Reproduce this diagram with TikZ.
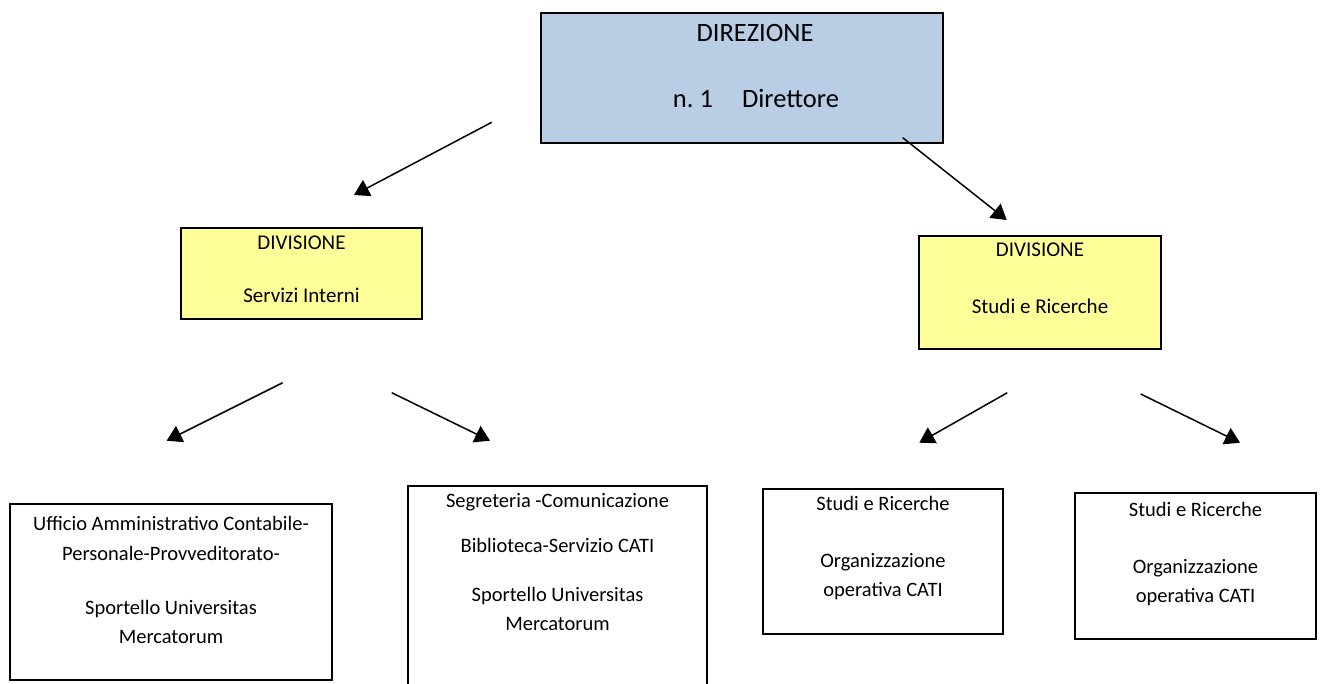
\documentclass[tikz,border=0pt]{standalone}
\usepackage{fontspec}
\setmainfont{Carlito}
\usetikzlibrary{arrows.meta}
\definecolor{dirblue}{HTML}{B9CDE5}
\definecolor{divyellow}{HTML}{FFFF99}
\tikzset{
  box/.style={draw=black, line width=2pt, inner sep=0pt, outer sep=0pt},
  txt/.style={anchor=base, inner sep=0pt},
  big/.style={txt, font=\fontsize{26.5}{30}\selectfont},
  mid/.style={txt, font=\fontsize{21}{25}\selectfont},
  small/.style={txt, font=\fontsize{20.5}{24}\selectfont},
  conn/.style={line width=1.5pt, -{Triangle[length=15pt,width=18pt]}}
}
\begin{document}
\begin{tikzpicture}[x=1pt,y=-1pt]
\useasboundingbox (0,0) rectangle (1322,684);
\begin{scope}
\clip (0,0) rectangle (1322,684);
% boxes
\path[box, fill=dirblue] (541,13) rectangle (943,143);
\node[big] (d1) at (755,42) {DIREZIONE};
\node[big] (d2) at (756,108) {n.\ 1\hspace{1.1em}Direttore};

\path[box, fill=divyellow] (181,228) rectangle (422,319);
\node[mid] (si1) at (301.5,250) {DIVISIONE};
\node[mid] (si2) at (301.5,303) {Servizi Interni};

\path[box, fill=divyellow] (919,236) rectangle (1161,349);
\node[mid] (sr1) at (1040,257) {DIVISIONE};
\node[mid] (sr2) at (1040,314) {Studi e Ricerche};

\path[box] (10,504) rectangle (332,680);
\node[small] (a1) at (171,530) {Ufficio Amministrativo Contabile-};
\node[small] (a2) at (171,560) {Personale-Provveditorato-};
\node[small] (a3) at (171,614) {Sportello Universitas};
\node[small] (a4) at (171,643) {Mercatorum};

\path[box] (408,486) rectangle (707,700);
\node[small] (b1) at (557.5,507) {Segreteria -Comunicazione};
\node[small] (b2) at (557.5,552) {Biblioteca-Servizio CATI};
\node[small] (b3) at (557.5,601) {Sportello Universitas};
\node[small] (b4) at (557.5,630) {Mercatorum};

\path[box] (763,489) rectangle (1003,634);
\node[small] (c1) at (883,510) {Studi e Ricerche};
\node[small] (c2) at (883,567) {Organizzazione};
\node[small] (c3) at (883,596) {operativa CATI};

\path[box] (1075,493) rectangle (1316,639);
\node[small] (e1) at (1195.5,516) {Studi e Ricerche};
\node[small] (e2) at (1195.5,573) {Organizzazione};
\node[small] (e3) at (1195.5,602) {operativa CATI};
\end{scope}

% connector ends
\coordinate (s1) at (491.7,122.3);  \coordinate (t1) at (354,195);
\coordinate (s2) at (902.7,137.7);  \coordinate (t2) at (1006.7,220);
\coordinate (s3) at (282.7,382.7);  \coordinate (t3) at (166.7,440.7);
\coordinate (s4) at (391.7,392.7);  \coordinate (t4) at (490,440.7);
\coordinate (s5) at (1007.3,392.7); \coordinate (t5) at (919.3,442.7);
\coordinate (s6) at (1140.7,394);   \coordinate (t6) at (1240,442.7);
\foreach \i in {1,...,6} { \draw[conn] (s\i) -- (t\i); }
\end{tikzpicture}
\end{document}
